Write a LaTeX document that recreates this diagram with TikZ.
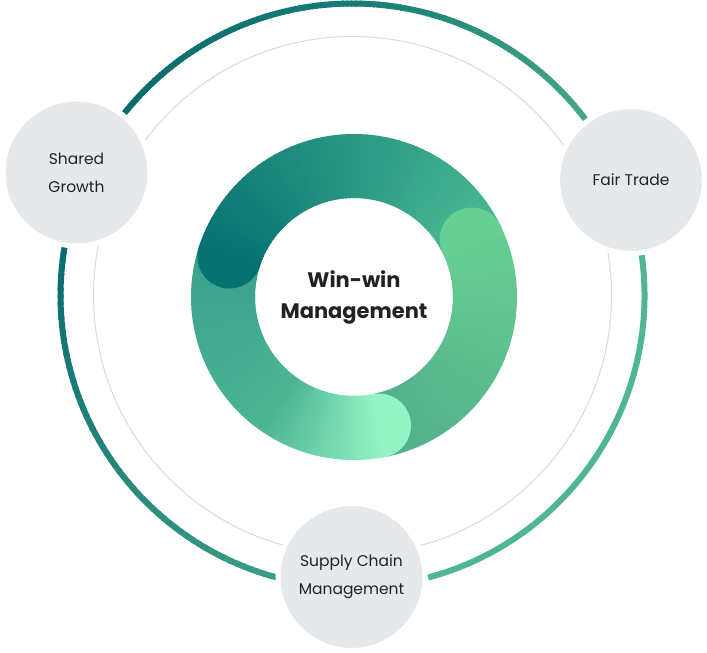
\documentclass[tikz,border=0pt]{standalone}
\usepackage{fontspec}
\setmainfont{Poppins}
\usepackage{tikz}
\usetikzlibrary{positioning}

\definecolor{ringdark}{HTML}{0A6B6E}
\definecolor{ringmid}{HTML}{167B76}
\definecolor{ringlight}{HTML}{45A888}
\definecolor{ringlow}{HTML}{3A9E86}
\definecolor{ringright}{HTML}{4FB68F}
\definecolor{thinring}{HTML}{DADADA}
\definecolor{bubblefill}{HTML}{E6E9EC}
\definecolor{labeltext}{HTML}{222222}
\definecolor{topstart}{HTML}{4AB993}
\definecolor{topend}{HTML}{077272}
\definecolor{leftstart}{HTML}{3AA08D}
\definecolor{leftmid}{HTML}{4BB592}
\definecolor{leftend}{HTML}{94F2C5}
\definecolor{rightstart}{HTML}{52AE8B}
\definecolor{rightend}{HTML}{67CF91}

% arc whose colour runs from #6 (at #4) to #7 (at #5)
\newcommand{\gradarc}[7]{%
  \foreach \k in {0,...,59}{
    \pgfmathsetmacro\ga{#4+\k*(#5-#4)/60}
    \pgfmathsetmacro\gb{#4+(\k+1.4)*(#5-#4)/60}
    \pgfmathsetmacro\gp{100-100*\k/59}
    \colorlet{gradcol}{#6!\gp!#7}
    \draw[gradcol, line width=#3, shift={(#1)}] (\ga:#2) arc[start angle=\ga, end angle=\gb, radius=#2];
  }}

% round head of a donut segment ending at angle #1
\newcommand{\segcap}[2]{%
  \fill[#2, shift={(donutc)}] (#1-1:163) arc[start angle=#1-1, end angle=#1, radius=163]
    arc[start angle=#1, end angle=#1+180, radius=32]
    arc[start angle=#1, end angle=#1-1, radius=99] -- cycle;}

\tikzset{
  bubble/.style={circle, fill=bubblefill, draw=white, line width=5pt, minimum size=147pt, inner sep=0pt,
    align=center, text=labeltext, font=\fontsize{15.5}{28}\selectfont},
  hubtext/.style={align=center, text=labeltext, font=\fontsize{21}{31}\selectfont\bfseries}
}

\begin{document}
\begin{tikzpicture}[x=1pt, y=1pt]
  \fill[white] (0,0) rectangle (707,653);
  \coordinate (ringc) at (352.5,357.5);
  \coordinate (donutc) at (354,356);

  % outer rings
  \draw[thinring, line width=1pt] (ringc) circle[radius=259];
  \gradarc{ringc}{292}{6pt}{37}{90}{ringlight}{ringmid}
  \gradarc{ringc}{292}{6pt}{90}{141}{ringmid}{ringdark}
  \gradarc{ringc}{292}{6pt}{170}{255}{ringdark}{ringlow}
  \draw[ringright, line width=6pt, shift={(ringc)}] (-75:292) arc[start angle=-75, end angle=8, radius=292];

  % donut
  \gradarc{donutc}{131}{64pt}{26}{162}{topstart}{topend}
  \gradarc{donutc}{131}{64pt}{162}{235}{leftstart}{leftmid}
  \gradarc{donutc}{131}{64pt}{235}{281}{leftmid}{leftend}
  \gradarc{donutc}{131}{64pt}{281}{386}{rightstart}{rightend}
  \segcap{162}{topend}
  \segcap{281}{leftend}
  \segcap{26}{rightend}

  \node[hubtext] (hub) at (354,356) {Win-win\\Management};

  \node[bubble] (shared) at (76.5,480.5) {Shared\\Growth};
  \node[bubble] (fair) at (631,473) {Fair Trade};
  \node[bubble] (supply) at (351.5,76) {Supply Chain\\Management};
\end{tikzpicture}
\end{document}
